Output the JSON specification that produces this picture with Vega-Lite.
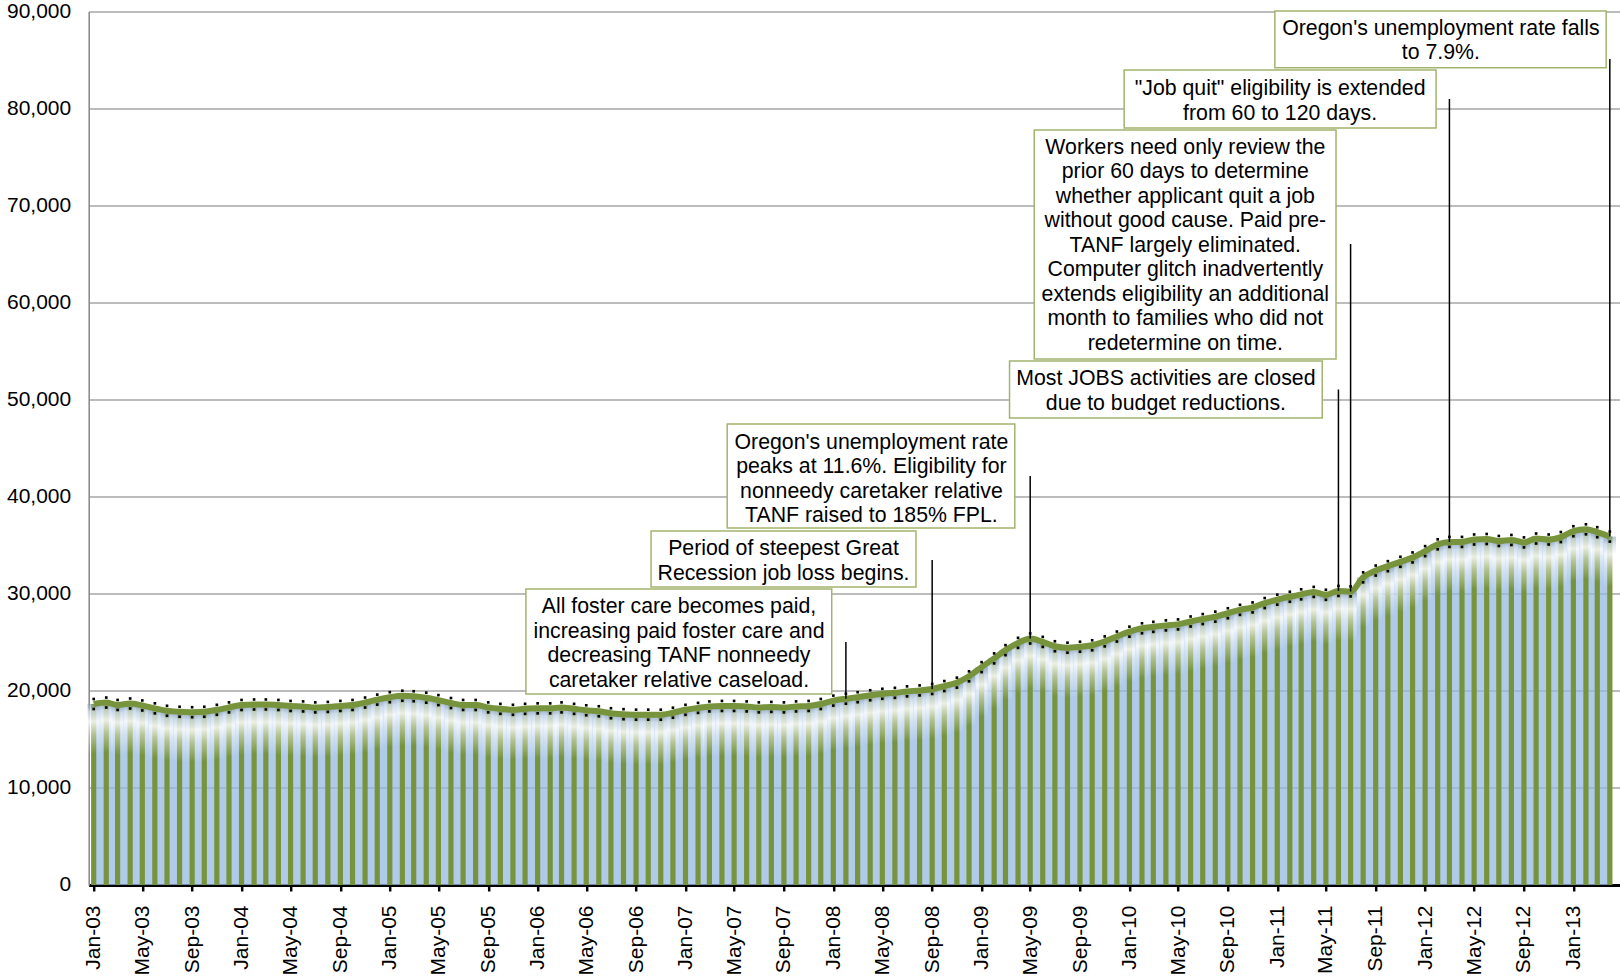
{
  "$schema": "https://vega.github.io/schema/vega-lite/v6.json",
  "width": 1531,
  "height": 873.5,
  "autosize": {"type": "none"},
  "padding": {"left": 88.7, "top": 11.5, "right": 0, "bottom": 91},
  "background": "white",
  "config": {"view": {"stroke": null}, "font": "Liberation Sans"},
  "datasets": {
    "caseload": [
      {"month": "2003-01-01", "cases": 18650}, {"month": "2003-02-01", "cases": 18800}, {"month": "2003-03-01", "cases": 18550}, {"month": "2003-04-01", "cases": 18700}, {"month": "2003-05-01", "cases": 18500}, {"month": "2003-06-01", "cases": 18200}, {"month": "2003-07-01", "cases": 17950}, {"month": "2003-08-01", "cases": 17850}, {"month": "2003-09-01", "cases": 17800}, {"month": "2003-10-01", "cases": 17850}, {"month": "2003-11-01", "cases": 18050}, {"month": "2003-12-01", "cases": 18300},
      {"month": "2004-01-01", "cases": 18550}, {"month": "2004-02-01", "cases": 18600}, {"month": "2004-03-01", "cases": 18600}, {"month": "2004-04-01", "cases": 18550}, {"month": "2004-05-01", "cases": 18450}, {"month": "2004-06-01", "cases": 18400}, {"month": "2004-07-01", "cases": 18300}, {"month": "2004-08-01", "cases": 18350}, {"month": "2004-09-01", "cases": 18450}, {"month": "2004-10-01", "cases": 18550}, {"month": "2004-11-01", "cases": 18800}, {"month": "2004-12-01", "cases": 19100},
      {"month": "2005-01-01", "cases": 19350}, {"month": "2005-02-01", "cases": 19500}, {"month": "2005-03-01", "cases": 19450}, {"month": "2005-04-01", "cases": 19300}, {"month": "2005-05-01", "cases": 19050}, {"month": "2005-06-01", "cases": 18750}, {"month": "2005-07-01", "cases": 18550}, {"month": "2005-08-01", "cases": 18550}, {"month": "2005-09-01", "cases": 18300}, {"month": "2005-10-01", "cases": 18150}, {"month": "2005-11-01", "cases": 18050}, {"month": "2005-12-01", "cases": 18150},
      {"month": "2006-01-01", "cases": 18200}, {"month": "2006-02-01", "cases": 18200}, {"month": "2006-03-01", "cases": 18300}, {"month": "2006-04-01", "cases": 18150}, {"month": "2006-05-01", "cases": 18000}, {"month": "2006-06-01", "cases": 17900}, {"month": "2006-07-01", "cases": 17700}, {"month": "2006-08-01", "cases": 17600}, {"month": "2006-09-01", "cases": 17550}, {"month": "2006-10-01", "cases": 17550}, {"month": "2006-11-01", "cases": 17550}, {"month": "2006-12-01", "cases": 17750},
      {"month": "2007-01-01", "cases": 18050}, {"month": "2007-02-01", "cases": 18250}, {"month": "2007-03-01", "cases": 18400}, {"month": "2007-04-01", "cases": 18450}, {"month": "2007-05-01", "cases": 18450}, {"month": "2007-06-01", "cases": 18400}, {"month": "2007-07-01", "cases": 18300}, {"month": "2007-08-01", "cases": 18350}, {"month": "2007-09-01", "cases": 18300}, {"month": "2007-10-01", "cases": 18400}, {"month": "2007-11-01", "cases": 18450}, {"month": "2007-12-01", "cases": 18650},
      {"month": "2008-01-01", "cases": 19000}, {"month": "2008-02-01", "cases": 19200}, {"month": "2008-03-01", "cases": 19350}, {"month": "2008-04-01", "cases": 19550}, {"month": "2008-05-01", "cases": 19700}, {"month": "2008-06-01", "cases": 19800}, {"month": "2008-07-01", "cases": 19950}, {"month": "2008-08-01", "cases": 20050}, {"month": "2008-09-01", "cases": 20200}, {"month": "2008-10-01", "cases": 20500}, {"month": "2008-11-01", "cases": 20850}, {"month": "2008-12-01", "cases": 21500},
      {"month": "2009-01-01", "cases": 22450}, {"month": "2009-02-01", "cases": 23350}, {"month": "2009-03-01", "cases": 24200}, {"month": "2009-04-01", "cases": 24950}, {"month": "2009-05-01", "cases": 25400}, {"month": "2009-06-01", "cases": 25050}, {"month": "2009-07-01", "cases": 24600}, {"month": "2009-08-01", "cases": 24450}, {"month": "2009-09-01", "cases": 24550}, {"month": "2009-10-01", "cases": 24700}, {"month": "2009-11-01", "cases": 25100}, {"month": "2009-12-01", "cases": 25600},
      {"month": "2010-01-01", "cases": 26100}, {"month": "2010-02-01", "cases": 26450}, {"month": "2010-03-01", "cases": 26600}, {"month": "2010-04-01", "cases": 26750}, {"month": "2010-05-01", "cases": 26850}, {"month": "2010-06-01", "cases": 27150}, {"month": "2010-07-01", "cases": 27400}, {"month": "2010-08-01", "cases": 27650}, {"month": "2010-09-01", "cases": 28000}, {"month": "2010-10-01", "cases": 28350}, {"month": "2010-11-01", "cases": 28600}, {"month": "2010-12-01", "cases": 29050},
      {"month": "2011-01-01", "cases": 29400}, {"month": "2011-02-01", "cases": 29700}, {"month": "2011-03-01", "cases": 29950}, {"month": "2011-04-01", "cases": 30200}, {"month": "2011-05-01", "cases": 29900}, {"month": "2011-06-01", "cases": 30300}, {"month": "2011-07-01", "cases": 30250}, {"month": "2011-08-01", "cases": 31700}, {"month": "2011-09-01", "cases": 32400}, {"month": "2011-10-01", "cases": 32850}, {"month": "2011-11-01", "cases": 33300}, {"month": "2011-12-01", "cases": 33750},
      {"month": "2012-01-01", "cases": 34400}, {"month": "2012-02-01", "cases": 35100}, {"month": "2012-03-01", "cases": 35350}, {"month": "2012-04-01", "cases": 35350}, {"month": "2012-05-01", "cases": 35600}, {"month": "2012-06-01", "cases": 35650}, {"month": "2012-07-01", "cases": 35450}, {"month": "2012-08-01", "cases": 35550}, {"month": "2012-09-01", "cases": 35300}, {"month": "2012-10-01", "cases": 35700}, {"month": "2012-11-01", "cases": 35600}, {"month": "2012-12-01", "cases": 35850},
      {"month": "2013-01-01", "cases": 36450}, {"month": "2013-02-01", "cases": 36650}, {"month": "2013-03-01", "cases": 36350}, {"month": "2013-04-01", "cases": 35900}
    ],
    "leaders": [
      {"month": "2008-02-01", "top": 25036, "end": 19200},
      {"month": "2008-09-01", "top": 33485, "end": 20200},
      {"month": "2009-05-01", "top": 42139, "end": 25400},
      {"month": "2011-06-01", "top": 51051, "end": 30300},
      {"month": "2011-07-01", "top": 66042, "end": 30250},
      {"month": "2012-03-01", "top": 80981, "end": 35350},
      {"month": "2013-04-01", "top": 85103, "end": 35900}
    ],
    "notes": [
      {"start": "2005-12-03", "end": "2007-12-28", "top": 30497, "bottom": 19679, "mid": "2006-12-16", "first": 28600, "label": "All foster care becomes paid,\nincreasing paid foster care and\ndecreasing TANF nonneedy\ncaretaker relative caseload."},
      {"start": "2006-10-08", "end": "2008-07-23", "top": 36473, "bottom": 30703, "mid": "2007-08-31", "first": 34570, "label": "Period of steepest Great\nRecession job loss begins."},
      {"start": "2007-04-14", "end": "2009-03-24", "top": 47497, "bottom": 36782, "mid": "2008-04-04", "first": 45560, "label": "Oregon's unemployment rate\npeaks at 11.6%. Eligibility for\nnonneedy caretaker relative\nTANF raised to 185% FPL."},
      {"start": "2009-03-11", "end": "2011-04-22", "top": 53988, "bottom": 48115, "mid": "2010-04-01", "first": 52100, "label": "Most JOBS activities are closed\ndue to budget reductions."},
      {"start": "2009-05-11", "end": "2011-05-26", "top": 77788, "bottom": 54194, "mid": "2010-05-19", "first": 75950, "label": "Workers need only review the\nprior 60 days to determine\nwhether applicant quit a job\nwithout good  cause. Paid pre-\nTANF largely eliminated.\nComputer glitch inadvertently\nextends eligibility an additional\nmonth to families who did not\nredetermine on time."},
      {"start": "2009-12-19", "end": "2012-01-28", "top": 83969, "bottom": 77994, "mid": "2011-01-08", "first": 82000, "label": "\"Job quit\" eligibility is extended\nfrom 60 to 120 days."},
      {"start": "2010-12-26", "end": "2013-03-23", "top": 90048, "bottom": 84206, "mid": "2012-02-09", "first": 88200, "label": "Oregon's unemployment rate falls\nto 7.9%."}
    ]
  },
  "layer": [
    {
      "data": {"name": "caseload"},
      "mark": {"type": "area", "interpolate": "monotone", "fill": "#96BAE3", "fillOpacity": 0.75},
      "encoding": {
        "x": {
          "field": "month", "type": "temporal", "title": null,
          "scale": {"type": "utc", "domain": [{"year": 2003, "month": 1, "date": 1, "utc": true}, {"year": 2013, "month": 4, "date": 13, "utc": true}]},
          "axis": {"format": "%b-%y", "tickCount": {"interval": "month", "step": 4}, "labelAngle": 270, "labelAlign": "right", "labelBaseline": "middle", "labelFontSize": 21, "labelFont": "Liberation Sans", "labelColor": "#000000", "labelPadding": 14, "tickSize": 6, "tickWidth": 2.5, "tickColor": "#000000", "domainColor": "#000000", "domainWidth": 3, "grid": false, "labelOverlap": false, "labelFlush": false}
        },
        "y": {
          "field": "cases", "type": "quantitative", "title": null,
          "scale": {"domain": [0, 90000], "nice": false},
          "axis": {"values": [0, 10000, 20000, 30000, 40000, 50000, 60000, 70000, 80000, 90000], "format": ",.0f", "labelFontSize": 21, "labelFont": "Liberation Sans", "labelColor": "#000000", "labelPadding": 18, "ticks": false, "tickSize": 0, "domainColor": "#868686", "domainWidth": 1.5, "gridColor": "#A6A6A6", "gridWidth": 1.6}
        }
      }
    },
    {
      "data": {"name": "caseload"},
      "mark": {"type": "bar", "width": 5.2, "color": "#77933C"},
      "encoding": {
        "x": {"field": "month", "type": "temporal", "title": null},
        "y": {"field": "cases", "type": "quantitative", "title": null}
      }
    },
    {
      "data": {"name": "caseload"},
      "mark": {"type": "bar", "width": 12.41, "y2Offset": 50, "fill": {"gradient": "linear", "x1": 0, "y1": 0, "x2": 0, "y2": 1, "stops": [{"offset": 0, "color": "rgba(130,150,170,0.5)"}, {"offset": 0.15, "color": "rgba(215,225,236,0.75)"}, {"offset": 0.35, "color": "rgba(255,255,255,0.85)"}, {"offset": 0.6, "color": "rgba(255,255,255,0.45)"}, {"offset": 1, "color": "rgba(255,255,255,0)"}]}},
      "encoding": {
        "x": {"field": "month", "type": "temporal", "title": null},
        "y": {"field": "cases", "type": "quantitative", "title": null},
        "y2": {"field": "cases"}
      }
    },
    {
      "data": {"name": "caseload"},
      "mark": {"type": "line", "interpolate": "monotone", "color": "#77933C", "strokeWidth": 6},
      "encoding": {
        "x": {"field": "month", "type": "temporal", "title": null},
        "y": {"field": "cases", "type": "quantitative", "title": null}
      }
    },
    {
      "data": {"name": "caseload"},
      "mark": {"type": "point", "shape": "square", "size": 7, "filled": true, "color": "#000000", "opacity": 1, "yOffset": -5},
      "encoding": {
        "x": {"field": "month", "type": "temporal", "title": null},
        "y": {"field": "cases", "type": "quantitative", "title": null}
      }
    },
    {
      "data": {"name": "caseload"},
      "mark": {"type": "point", "shape": "square", "size": 7, "filled": true, "color": "#000000", "opacity": 1, "yOffset": 5},
      "encoding": {
        "x": {"field": "month", "type": "temporal", "title": null},
        "y": {"field": "cases", "type": "quantitative", "title": null}
      }
    },
    {
      "data": {"name": "leaders"},
      "mark": {"type": "rule", "color": "#000000", "strokeWidth": 1.5},
      "encoding": {
        "x": {"field": "month", "type": "temporal", "title": null},
        "y": {"field": "top", "type": "quantitative", "title": null},
        "y2": {"field": "end"}
      }
    },
    {
      "data": {"name": "notes"},
      "mark": {"type": "rect", "fill": "#FFFFFF", "stroke": "#A3B46E", "strokeWidth": 1.5},
      "encoding": {
        "x": {"field": "start", "type": "temporal", "title": null},
        "x2": {"field": "end"},
        "y": {"field": "top", "type": "quantitative", "title": null},
        "y2": {"field": "bottom"}
      }
    },
    {
      "data": {"name": "notes"},
      "mark": {"type": "text", "lineBreak": "\n", "align": "center", "baseline": "middle", "font": "Liberation Sans", "fontSize": 21.3, "lineHeight": 24.5, "color": "#000000"},
      "encoding": {
        "x": {"field": "mid", "type": "temporal", "title": null},
        "y": {"field": "first", "type": "quantitative", "title": null},
        "text": {"field": "label"}
      }
    }
  ]
}
